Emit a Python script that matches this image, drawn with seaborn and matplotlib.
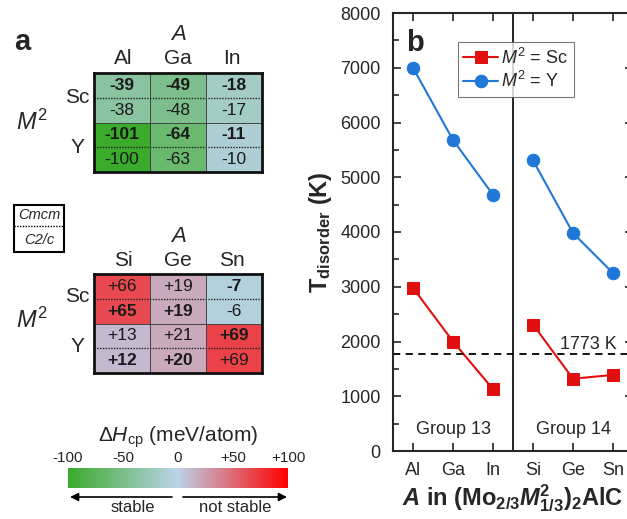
import numpy as np
import pandas as pd
import matplotlib
matplotlib.use("Agg")
import matplotlib.pyplot as plt
import seaborn as sns
from matplotlib.colors import LinearSegmentedColormap, Normalize
from matplotlib.cm import ScalarMappable
from matplotlib.patches import Rectangle
from matplotlib.lines import Line2D

# --- data: panel a (formation enthalpy, meV/atom) ---
m2_sites = ["Sc", "Y"]
a_group13 = ["Al", "Ga", "In"]
a_group14 = ["Si", "Ge", "Sn"]
dh13_cmcm = [[-39, -49, -18], [-101, -64, -11]]
dh13_c2c = [[-38, -48, -17], [-100, -63, -10]]
dh14_cmcm = [[66, 19, -7], [13, 21, 69]]
dh14_c2c = [[65, 19, -6], [12, 20, 69]]
stable13 = [["Cmcm", "Cmcm", "Cmcm"], ["Cmcm", "Cmcm", "Cmcm"]]
stable14 = [["C2/c", "C2/c", "Cmcm"], ["C2/c", "C2/c", "Cmcm"]]
cbar_ticks = [-100, -50, 0, 50, 100]
cbar_labels = ["-100", "-50", "0", "+50", "+100"]

# --- data: panel b (order-disorder temperature, K) ---
elements = ["Al", "Ga", "In", "Si", "Ge", "Sn"]
groups = ["Group 13"] * 3 + ["Group 14"] * 3
t_sc = [2980, 2000, 1130, 2310, 1320, 1390]
t_y = [7000, 5680, 4680, 5310, 3980, 3250]
t_limit = 1773

sns.set_style("ticks")
plt.rcParams["font.family"] = ["Liberation Sans", "DejaVu Sans"]
plt.rcParams["mathtext.fontset"] = "custom"
plt.rcParams["mathtext.rm"] = "Liberation Sans"
plt.rcParams["mathtext.it"] = "Liberation Sans:italic"
plt.rcParams["mathtext.bf"] = "Liberation Sans:bold"
plt.rcParams["mathtext.bfit"] = "Liberation Sans:italic:bold"

W, H = 627, 519
fig = plt.figure(figsize=(W / 100, H / 100), dpi=100)


def fx(x):
    return x / W


def fy(y):
    return 1 - y / H


def box(x0, y0, x1, y1):
    return [fx(x0), fy(y1), fx(x1) - fx(x0), fy(y0) - fy(y1)]


cmap = LinearSegmentedColormap.from_list(
    "dh", [(0.0, "#3aab2a"), (0.5, "#bcd3ea"), (1.0, "#ff0000")])


def table(rect, cmcm, c2c, stable, signed):
    # 4 rows: Sc-Cmcm, Sc-C2/c, Y-Cmcm, Y-C2/c ; colour = stable phase value
    colour, labels, bold = [], [], []
    for i in range(2):
        for phase, vals in (("Cmcm", cmcm), ("C2/c", c2c)):
            row_c, row_l, row_b = [], [], []
            for j in range(3):
                sv = cmcm[i][j] if stable[i][j] == "Cmcm" else c2c[i][j]
                row_c.append(sv)
                v = vals[i][j]
                row_l.append(f"{v:+d}" if signed else f"{v:d}")
                row_b.append(stable[i][j] == phase)
            colour.append(row_c)
            labels.append(row_l)
            bold.append(row_b)
    ax = fig.add_axes(rect)
    sns.heatmap(np.array(colour), cmap=cmap, vmin=-100, vmax=100, cbar=False,
                annot=np.array(labels), fmt="", xticklabels=False, yticklabels=False,
                annot_kws={"color": "#1a1a1a", "fontsize": 12.5}, ax=ax)
    for t in ax.texts:
        x, y = t.get_position()
        if bold[int(y)][int(x)]:
            t.set_fontweight("bold")
    for k in (1, 3):
        ax.axhline(k, color="#222222", lw=1.0, ls=(0, (1, 1)))
    ax.axhline(2, color="#444444", lw=0.7)
    for k in (1, 2):
        ax.axvline(k, color="#444444", lw=0.7)
    for s in ax.spines.values():
        s.set_visible(True)
        s.set_linewidth(2)
        s.set_color("#111111")
    return ax


table(box(94, 73, 262, 172), dh13_cmcm, dh13_c2c, stable13, False)
table(box(94, 274, 262, 373), dh14_cmcm, dh14_c2c, stable14, True)

fig.text(fx(22), fy(42), "a", fontsize=21, fontweight="bold", ha="center", va="center")
for top, names in ((35, a_group13), (237, a_group14)):
    fig.text(fx(178), fy(top), "$A$", fontsize=16, ha="center", va="center")
    for x, n in zip((123, 178, 232), names):
        fig.text(fx(x), fy(top + 24), n, fontsize=15, ha="center", va="center")
for ys, ym in (((98, 148), 122), ((297, 347), 320)):
    for y, n in zip(ys, m2_sites):
        fig.text(fx(77), fy(y), n, fontsize=15, ha="center", va="center")
    fig.text(fx(32), fy(ym), "$M^2$", fontsize=17, ha="center", va="center")

# phase key box
fig.add_artist(Rectangle((fx(14), fy(252)), fx(64) - fx(14), fy(205) - fy(252),
                         transform=fig.transFigure, fill=False, lw=1.5, ec="k"))
fig.add_artist(Line2D([fx(14), fx(64)], [fy(226), fy(226)], transform=fig.transFigure,
                      ls=(0, (1, 1)), lw=1, color="k"))
fig.text(fx(39), fy(215), "Cmcm", fontsize=10.5, style="italic", ha="center", va="center")
fig.text(fx(39), fy(240), "C2/c", fontsize=10.5, style="italic", ha="center", va="center")

# colour bar
cax = fig.add_axes(box(68, 468, 288, 488))
cb = fig.colorbar(ScalarMappable(norm=Normalize(-100, 100), cmap=cmap), cax=cax,
                  orientation="horizontal")
cb.outline.set_visible(False)
cax.xaxis.set_ticks_position("top")
cax.set_xticks(cbar_ticks)
cax.set_xticklabels(cbar_labels, fontsize=11)
cax.tick_params(length=0, pad=2)
fig.text(fx(178), fy(437), r"$\Delta H_{\mathrm{cp}}$ (meV/atom)", fontsize=15,
         ha="center", va="center")
for x0, x1 in ((172, 70), (183, 287)):
    cax.annotate("", xy=(fx(x1), fy(497)), xytext=(fx(x0), fy(497)),
                 xycoords="figure fraction", textcoords="figure fraction",
                 arrowprops=dict(arrowstyle="-|>", color="k", lw=1.2,
                                 mutation_scale=12, shrinkA=0, shrinkB=0),
                 annotation_clip=False)
fig.text(fx(133), fy(508), "stable", fontsize=12, ha="center", va="center")
fig.text(fx(235), fy(508), "not stable", fontsize=12, ha="center", va="center")

# --- panel b ---
df = pd.DataFrame({"element": elements, "group": groups,
                   "pos": np.arange(1, len(elements) + 1), "Sc": t_sc, "Y": t_y})
ax = fig.add_axes(box(393, 13, 633, 451))
styles = {"Sc": ("#e01010", "s", r"$M^2$ = Sc"), "Y": ("#1f78d8", "o", r"$M^2$ = Y")}
for m2, (col, mk, lab) in styles.items():
    for g, sub in df.groupby("group"):
        sns.lineplot(data=sub, x="pos", y=m2, color=col, marker=mk, markersize=9,
                     markeredgecolor=col, lw=1.5,
                     label=lab if g == "Group 13" else None, ax=ax)
ax.axvline(3.5, color="k", lw=1.2)
ax.axhline(t_limit, color="k", lw=1.3, ls=(0, (4, 3)))
ax.text(6.1, t_limit + 180, f"{t_limit} K", fontsize=13, ha="right", va="center")
for g, sub in df.groupby("group"):
    ax.text(sub["pos"].mean(), 400, g, fontsize=13, ha="center", va="center")
ax.set_xlim(0.5, 6.5)
ax.set_ylim(0, 8000)
ax.set_xticks(df["pos"])
ax.set_xticklabels(elements, fontsize=13)
ax.set_yticks(range(0, 8001, 1000))
ax.set_yticks(range(500, 8000, 1000), minor=True)
ax.tick_params(axis="both", which="both", direction="in", top=True, right=True,
               labelsize=13, width=1.2)
ax.tick_params(which="major", length=6)
ax.tick_params(which="minor", length=4)
ax.tick_params(axis="x", pad=8)
ax.tick_params(axis="y", pad=9)
for s in ax.spines.values():
    s.set_linewidth(1.5)
ax.set_ylabel(r"T$_{\mathbf{disorder}}$ (K)", fontsize=17, fontweight="bold", labelpad=4)
ax.set_xlabel(r"$\mathbfit{A}$ in (Mo$_{\mathbf{2/3}}$$\mathbfit{M}_{\mathbf{1/3}}^{\mathbf{2}}$)$_{\mathbf{2}}$AlC",
              fontsize=17, fontweight="bold", labelpad=2)
ax.legend(loc="upper left", bbox_to_anchor=(fx(458), fy(42)), bbox_transform=fig.transFigure,
          fontsize=13, frameon=True, fancybox=False, edgecolor="#555555",
          handlelength=1.9, borderpad=0.3, labelspacing=0.2, handletextpad=0.2,
          borderaxespad=0)
ax.get_legend().get_frame().set_linewidth(0.8)
fig.text(fx(415), fy(43), "b", fontsize=21, fontweight="bold", ha="center", va="center")

fig.savefig("out.png", dpi=100)
